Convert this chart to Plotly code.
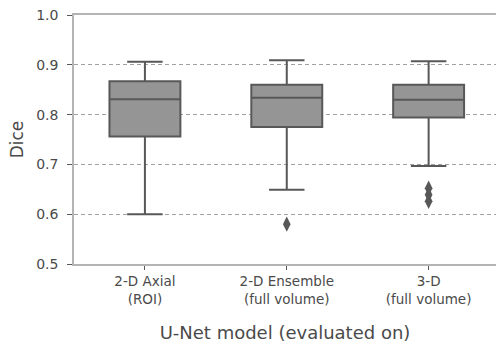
import plotly.graph_objects as go

categories = ["2-D Axial<br>(ROI)", "2-D Ensemble<br>(full volume)", "3-D<br>(full volume)"]
q1 = [0.756, 0.775, 0.794]
median = [0.831, 0.834, 0.830]
q3 = [0.867, 0.860, 0.860]
lower_whisker = [0.600, 0.649, 0.697]
upper_whisker = [0.906, 0.909, 0.907]
outlier_cat = [categories[1], categories[2], categories[2], categories[2]]
outlier_val = [0.580, 0.652, 0.639, 0.626]

y_ticks = [0.5, 0.6, 0.7, 0.8, 0.9, 1.0]

FILL = "#959595"
LINE = "#585858"
TEXT = "#4a4a4a"
SPINE = "#b4b4b4"
GRID = "#a0a0a0"
FONT = "DejaVu Sans"

fig = go.Figure()
fig.add_trace(go.Box(
    x=categories, q1=q1, median=median, q3=q3,
    lowerfence=lower_whisker, upperfence=upper_whisker,
    fillcolor=FILL, line=dict(color=LINE, width=2),
    whiskerwidth=0.5, boxpoints=False, showlegend=False, hoverinfo="skip",
))
fig.add_trace(go.Scatter(
    x=outlier_cat, y=outlier_val, mode="markers",
    marker=dict(symbol="diamond-tall", size=11, color=LINE, line=dict(width=0)),
    showlegend=False, hoverinfo="skip",
))

fig.update_layout(
    width=496, height=343,
    margin=dict(l=74, r=0, t=15, b=79),
    paper_bgcolor="white", plot_bgcolor="white",
    boxgap=0.5, boxgroupgap=0,
    font=dict(family=FONT, color=TEXT, size=13),
)
fig.update_xaxes(
    type="category", range=[-0.5, 2.475],
    showline=True, mirror=True, linecolor=SPINE, linewidth=1.5,
    ticks="outside", ticklen=4, tickwidth=1.2, tickcolor=LINE,
    tickfont=dict(size=13.5, color=TEXT),
    showgrid=False, zeroline=False,
    title=dict(text="U-Net model (evaluated on)", font=dict(size=18, color=TEXT), standoff=23),
)
fig.update_yaxes(
    range=[0.5, 1.0], tickvals=y_ticks, ticktext=[f"{v:.1f}" for v in y_ticks],
    showline=True, linecolor=SPINE, linewidth=1.5,
    ticks="outside", ticklen=5, tickwidth=1.2, tickcolor=LINE,
    tickfont=dict(size=14, color=TEXT), ticklabelstandoff=6,
    showgrid=True, gridcolor=GRID, griddash="4px,3px", gridwidth=1,
    zeroline=False,
    title=dict(text="Dice", font=dict(size=17, color=TEXT), standoff=8),
)

fig.write_html("out.html")
